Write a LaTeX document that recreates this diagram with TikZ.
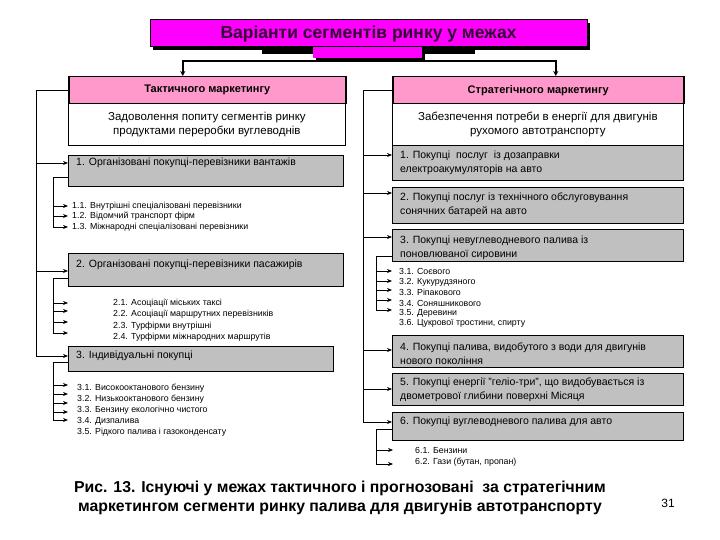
\documentclass[tikz,border=0pt]{standalone}
\usepackage{fontspec}
\setmainfont{Liberation Sans}
\usetikzlibrary{arrows.meta}
\definecolor{magT}{HTML}{FF00FF}
\definecolor{titleT}{HTML}{330033}
\definecolor{pinkH}{HTML}{FF99CC}
\definecolor{grayB}{HTML}{C0C0C0}
\begin{document}
\begin{tikzpicture}[x=1pt,y=-1pt,
  arr/.style={-{Stealth[length=5pt,width=4pt]}, line width=0.8pt},
  arrT/.style={-{Stealth[length=5pt,width=5pt]}, line width=1.8pt},
  bus/.style={line width=0.8pt},
  head/.style={draw, line width=1.5pt, fill=pinkH, anchor=north west, inner sep=0, font=\bfseries\fontsize{11}{13}\selectfont},
  desc/.style={draw, line width=0.8pt, fill=white, anchor=north west, inner sep=0, align=center, font=\fontsize{11.5}{14}\selectfont},
  gbox/.style={draw=black, line width=0.6pt, fill=grayB, anchor=north west, inner sep=0},
  btxt/.style={anchor=west, inner sep=0, align=left, font=\fontsize{10.5}{14}\selectfont},
  sub/.style={anchor=west, inner sep=0, font=\fontsize{8.8}{10}\selectfont},
]
\useasboundingbox (0,0) rectangle (720,540);
\fill[white] (0,0) rectangle (720,540);

% title
\fill[black] (153,23) rectangle (590,50);
\fill[black] (262,50) rectangle (313,54);
\fill[black] (422,50) rectangle (475,54);
\fill[black] (316,50) rectangle (425,61);
\node[draw, line width=1pt, fill=magT, minimum width=437pt, minimum height=27pt, inner sep=0,
      font=\bfseries\fontsize{17.5}{19}\selectfont, text=titleT] (title) at (368.5,33.5) {Варіанти сегментів ринку у межах};
\node[fill=magT, minimum width=109pt, minimum height=11pt, inner sep=0] (tab) at (367.5,52.5) {};
\coordinate (jn) at (367.5,61);

% headers and descriptions
\node[desc, minimum width=277pt, minimum height=42pt] (dl) at (68,103) {Задоволення попиту сегментів ринку\\продуктами переробки вуглеводнів};
\node[desc, minimum width=291pt, minimum height=42pt] (dr) at (392,103) {Забезпечення потреби в енергії для двигунів\\рухомого автотранспорту};
\node[head, minimum width=277pt, minimum height=27pt] (hl) at (68,76) {Тактичного маркетингу};
\node[head, minimum width=291pt, minimum height=27pt] (hr) at (392,76) {Стратегічного маркетингу};

\draw[arrT] (jn) -| ([xshift=-24.5pt]hl.north);
\draw[arrT] (jn) -| ([xshift=17.5pt]hr.north);

% left boxes
\node[gbox, minimum width=275pt, minimum height=31pt] (l1) at (68,155) {};
\node[gbox, minimum width=275pt, minimum height=33pt] (l2) at (68,253) {};
\node[gbox, minimum width=265pt, minimum height=25pt] (l3) at (68,346) {};
\node[btxt] (l1t) at (76,163) {1. Організовані покупці-перевізники вантажів};
\node[btxt] (l2t) at (76,265) {2. Організовані покупці-перевізники пасажирів};
\node[btxt] (l3t) at (76,355.5) {3. Індивідуальні покупці};

% left bus
\draw[bus] (hl.west) -| (36,356);
\draw[arr] (36,163) -- (36,163 -| l1.west);
\draw[arr] (36,271) -- (36,271 -| l2.west);
\draw[arr] (36,356) -- (36,356 -| l3.west);

% left sub 1
\draw[bus] (l1.west |- 0,177) -- (53,177) -- (53,227);
\foreach \y in {206,216,227} \draw[arr] (53,\y) -- (68,\y);
\node[sub] (s11) at (72,206) {1.1. Внутрішні спеціалізовані перевізники};
\node[sub] (s12) at (72,216.5) {1.2. Відомчий транспорт фірм};
\node[sub] (s13) at (72,227) {1.3. Міжнародні спеціалізовані перевізники};

% left sub 2
\draw[bus] (l2.west |- 0,278) -- (53,278) -- (53,333);
\foreach \y in {303,311,322,333} \draw[arr] (53,\y) -- (68,\y);
\node[sub] (s21) at (113,303) {2.1. Асоціації міських таксі};
\node[sub] (s22) at (113,314.5) {2.2. Асоціації маршрутних перевізників};
\node[sub] (s23) at (113,326) {2.3. Турфірми внутрішні};
\node[sub] (s24) at (113,337.5) {2.4. Турфірми міжнародних маршрутів};

% left sub 3
\draw[bus] (l3.west |- 0,362) -- (53,362) -- (53,420);
\foreach \y in {385,394,403,412,420} \draw[arr] (53,\y) -- (68,\y);
\node[sub] (s31) at (77,388) {3.1. Високооктанового бензину};
\node[sub] (s32) at (77,399) {3.2. Низькооктанового бензину};
\node[sub] (s33) at (77,410) {3.3. Бензину екологічно чистого};
\node[sub] (s34) at (77,421) {3.4. Дизпалива};
\node[sub] (s35) at (77,432) {3.5. Рідкого палива і газоконденсату};

% right boxes
\node[gbox, minimum width=291pt, minimum height=35pt] (r1) at (392,145) {};
\node[gbox, minimum width=291pt, minimum height=36pt] (r2) at (392,187) {};
\node[gbox, minimum width=291pt, minimum height=32pt] (r3) at (392,229) {};
\node[gbox, minimum width=291pt, minimum height=32pt] (r4) at (392,335) {};
\node[gbox, minimum width=291pt, minimum height=32pt] (r5) at (392,373) {};
\node[gbox, minimum width=291pt, minimum height=28pt] (r6) at (392,412) {};
\node[btxt] (r1t) at (400,163) {1. Покупці\ \ послуг\ \ із дозаправки\\електроакумуляторів на авто};
\node[btxt] (r2t) at (400,205) {2. Покупці послуг із технічного обслуговування\\сонячних батарей на авто};
\node[btxt] (r3t) at (400,247.5) {3. Покупці невуглеводневого палива із\\поновлюваної сировини};
\node[btxt] (r4t) at (400,353.5) {4. Покупці палива, видобутого з води для двигунів\\нового покоління};
\node[btxt] (r5t) at (400,390) {5. Покупці енергії "геліо-три", що видобувається із\\двометрової глибини поверхні Місяця};
\node[btxt] (r6t) at (400,422) {6. Покупці вуглеводневого палива для авто};

% right bus
\draw[bus] (hr.west) -| (363,422);
\draw[arr] (363,155) -- (363,155 -| r1.west);
\draw[arr] (363,193) -- (363,193 -| r2.west);
\draw[arr] (363,237) -- (363,237 -| r3.west);
\draw[arr] (363,350) -- (363,350 -| r4.west);
\draw[arr] (363,389) -- (363,389 -| r5.west);
\draw[arr] (363,422) -- (363,422 -| r6.west);

% right sub 3
\draw[bus] (r3.west |- 0,256) -- (376,256) -- (376,310);
\foreach \y in {271,281,290,300,310} \draw[arr] (376,\y) -- (392,\y);
\node[sub] (q31) at (399,271) {3.1. Соєвого};
\node[sub] (q32) at (399,282) {3.2. Кукурудзяного};
\node[sub] (q33) at (399,292.5) {3.3. Ріпакового};
\node[sub] (q34) at (399,303) {3.4. Соняшникового};
\node[sub] (q35) at (399,313) {3.5. Деревини};
\node[sub] (q36) at (399,323.5) {3.6. Цукрової тростини, спирту};

% right sub 6
\draw[bus] (r6.west |- 0,429) -- (376,429) -- (376,464);
\foreach \y in {450,464} \draw[arr] (376,\y) -- (393,\y);
\node[sub] (q61) at (415,450) {6.1. Бензини};
\node[sub] (q62) at (415,462) {6.2. Гази (бутан, пропан)};

% caption
\node[align=center, inner sep=0, font=\bfseries\fontsize{15.8}{19}\selectfont] (cap) at (340,497.5)
  {Рис. 13. Існуючі у межах тактичного і прогнозовані\ \ за стратегічним\\маркетингом сегменти ринку палива для двигунів автотранспорту};
\node[inner sep=0, font=\fontsize{12}{14}\selectfont] (pg) at (668,503) {31};
\end{tikzpicture}
\end{document}
